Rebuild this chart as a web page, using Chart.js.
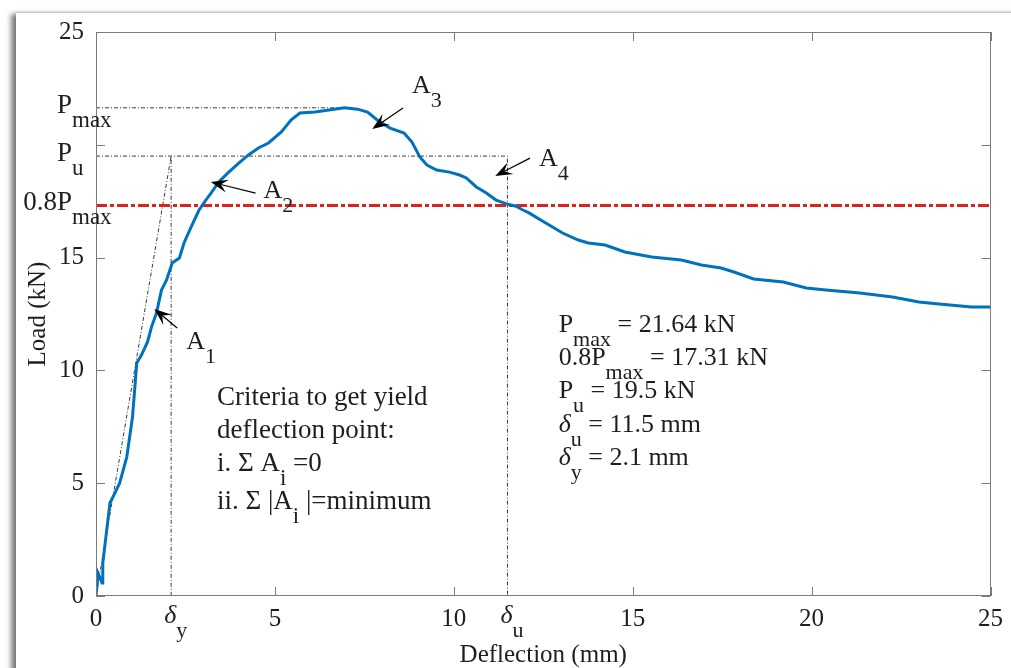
<!DOCTYPE html>
<html>
<head>
<meta charset="utf-8">
<title>Load-deflection curve</title>
<script src="https://cdn.jsdelivr.net/npm/chart.js@4.4.1/dist/chart.umd.min.js"></script>
<style>
  html, body { margin: 0; padding: 0; background: #fff; }
  body { width: 1011px; height: 668px; position: relative; overflow: hidden; }
  #sheet {
    position: absolute; left: 16px; top: 13px; width: 1040px; height: 700px;
    background: #fff;
    box-shadow: -6px 0 5px -1px rgba(0,0,0,0.5), 0 -1px 3px rgba(0,0,0,0.12);
  }
  #loadChart { position: absolute; left: 0; top: 0; }
</style>
</head>
<body>
<div id="sheet"></div>
<canvas id="loadChart" width="1011" height="668"></canvas>
<script>
// measured load-deflection response
const deflection = [0, 0.06, 0.17, 0.19, 0.30, 0.39, 0.53, 0.66, 0.86, 1.02, 1.08, 1.14, 1.27, 1.44, 1.55,
    1.69, 1.83, 1.97, 2.13, 2.33, 2.46, 2.66, 2.88, 3.07, 3.24, 3.43, 3.71, 3.99, 4.26, 4.54, 4.82, 5.18,
    5.45, 5.70, 6.12, 6.56, 6.95, 7.31, 7.59, 7.86, 8.22, 8.61, 8.83, 9.05, 9.25, 9.52, 9.88, 10.16, 10.35,
    10.63, 10.91, 11.18, 11.54, 11.74, 11.93, 12.10, 12.57, 13.04, 13.48, 13.76, 14.23, 14.78, 15.53, 16.36,
    16.92, 17.47, 17.83, 18.38, 19.21, 19.85, 20.40, 21.35, 22.26, 23.00, 23.56, 24.47, 25.00];
const load = [0, 1.0, 0.58, 1.46, 2.93, 4.12, 4.57, 5.0, 6.16, 7.93, 9.13, 10.33, 10.68, 11.26, 11.92,
    12.54, 13.56, 14.0, 14.76, 14.98, 15.65, 16.36, 17.11, 17.55, 17.91, 18.35, 18.79, 19.19, 19.55, 19.86,
    20.08, 20.57, 21.10, 21.41, 21.45, 21.55, 21.64, 21.58, 21.45, 21.10, 20.74, 20.52, 20.12, 19.46, 19.10,
    18.88, 18.79, 18.66, 18.53, 18.13, 17.86, 17.55, 17.35, 17.28, 17.11, 16.98, 16.53, 16.09, 15.78, 15.65,
    15.56, 15.25, 15.03, 14.89, 14.67, 14.54, 14.36, 14.05, 13.92, 13.65, 13.56, 13.43, 13.25, 13.03, 12.94,
    12.81, 12.81];

// characteristic values
const pMax = 21.64;
const p08 = 17.31;
const pU = 19.5;
const deltaU = 11.5;
const deltaY = 2.1;

const xTicks = [0, 5, 10, 15, 20, 25];
const yTicks = [0, 5, 10, 15, 20, 25];
const yTickLabels = ['0', '5', '10', '15', '', '25'];

// area arrows: tip and tail in data units, label anchor
const arrowNames = ['1', '2', '3', '4'];
const arrowTips = [[1.63, 12.72], [3.21, 18.35], [7.72, 20.70], [11.16, 18.62]];
const arrowTails = [[2.27, 11.88], [4.46, 17.86], [8.58, 21.63], [12.13, 19.41]];
const arrowLabelAt = [[2.52, 10.95], [4.68, 17.65], [8.83, 22.30], [12.38, 19.05]];

const SERIF = "'Liberation Serif', 'Times New Roman', serif";
const INK = '#1e1e1e';
const AXIS = '#7a7a7a';

const peakX = deflection[load.indexOf(Math.max(...load))];
const curve = deflection.map((x, i) => ({ x, y: load[i] }));

// parts: [text, kind]  kind '' = normal, 's' = subscript, 'i' = italic
function richText(ctx, x, y, parts, size) {
    const subSize = Math.round(size * 0.86);
    const fontFor = k => k === 's' ? `${subSize}px ${SERIF}`
        : k === 'i' ? `italic ${size}px ${SERIF}` : `${size}px ${SERIF}`;
    ctx.save();
    ctx.fillStyle = INK;
    ctx.textAlign = 'left';
    ctx.textBaseline = 'alphabetic';
    let cx = x;
    parts.forEach(([t, k]) => {
        ctx.font = fontFor(k);
        ctx.fillText(t, cx, k === 's' ? y + Math.round(size * 0.52) : y);
        cx += ctx.measureText(t).width;
    });
    ctx.restore();
    return cx - x;
}

function textWidth(ctx, t, font) {
    ctx.save();
    ctx.font = font;
    const w = ctx.measureText(t).width;
    ctx.restore();
    return w;
}

function drawArrow(ctx, tx, ty, sx, sy) {
    const ang = Math.atan2(ty - sy, tx - sx);
    const c = Math.cos(ang), s = Math.sin(ang);
    const len = 17, half = 6.5;
    ctx.save();
    ctx.strokeStyle = '#000';
    ctx.fillStyle = '#000';
    ctx.lineWidth = 1.2;
    ctx.beginPath();
    ctx.moveTo(sx, sy);
    ctx.lineTo(tx - c * len * 0.6, ty - s * len * 0.6);
    ctx.stroke();
    ctx.beginPath();
    ctx.moveTo(tx, ty);
    ctx.lineTo(tx - c * len + s * half, ty - s * len - c * half);
    ctx.lineTo(tx - c * len * 0.6, ty - s * len * 0.6);
    ctx.lineTo(tx - c * len - s * half, ty - s * len + c * half);
    ctx.closePath();
    ctx.fill();
    ctx.restore();
}

const frameAndNotes = {
    id: 'frameAndNotes',
    afterDatasetsDraw(chart) {
        const { ctx, chartArea: a, scales: { x, y } } = chart;
        ctx.save();
        ctx.strokeStyle = AXIS;
        ctx.lineWidth = 1;
        ctx.strokeRect(Math.round(a.left) + 0.5, Math.round(a.top) + 0.5,
            Math.round(a.right - a.left) - 1, Math.round(a.bottom - a.top) - 1);
        // inward ticks on all four sides
        ctx.beginPath();
        xTicks.forEach(v => {
            const px = Math.round(x.getPixelForValue(v)) + 0.5;
            ctx.moveTo(px, a.bottom); ctx.lineTo(px, a.bottom - 9);
            ctx.moveTo(px, a.top); ctx.lineTo(px, a.top + 9);
        });
        yTicks.forEach(v => {
            const py = Math.round(y.getPixelForValue(v)) + 0.5;
            ctx.moveTo(a.left, py); ctx.lineTo(a.left + 9, py);
            ctx.moveTo(a.right, py); ctx.lineTo(a.right - 9, py);
        });
        ctx.stroke();
        ctx.restore();
    },
    afterDraw(chart) {
        const { ctx, chartArea: a, scales: { x, y } } = chart;
        const fs = 26;

        // load levels on the y axis
        const anchor = a.left - 24;
        [[pMax, 'P', 'max'], [pU, 'P', 'u'], [p08, '0.8P', 'max']].forEach(([v, main, sub]) => {
            const w = textWidth(ctx, main, `27px ${SERIF}`);
            richText(ctx, anchor - w, y.getPixelForValue(v) + 5, [[main, ''], [sub, 's']], 27);
        });

        // deflection marks on the x axis
        [[deltaY, 'y'], [deltaU, 'u']].forEach(([v, sub]) => {
            richText(ctx, x.getPixelForValue(v) - 7, a.bottom + 27, [['δ', 'i'], [sub, 's']], fs);
        });

        // arrows to the areas A1..A4
        arrowNames.forEach((n, i) => {
            drawArrow(ctx, x.getPixelForValue(arrowTips[i][0]), y.getPixelForValue(arrowTips[i][1]),
                x.getPixelForValue(arrowTails[i][0]), y.getPixelForValue(arrowTails[i][1]));
            richText(ctx, x.getPixelForValue(arrowLabelAt[i][0]), y.getPixelForValue(arrowLabelAt[i][1]),
                [['A', ''], [n, 's']], fs);
        });

        // yield criteria
        const lx = x.getPixelForValue(3.38);
        richText(ctx, lx, y.getPixelForValue(8.47), [['Criteria to get yield', '']], 27);
        richText(ctx, lx, y.getPixelForValue(7.00), [['deflection point:', '']], 27);
        richText(ctx, lx, y.getPixelForValue(5.55), [['i. Σ A', ''], ['i', 's'], [' =0', '']], 27);
        richText(ctx, lx, y.getPixelForValue(3.85), [['ii. Σ |A', ''], ['i', 's'], [' |=minimum', '']], 27);

        // summary of values
        const rx = x.getPixelForValue(12.93);
        richText(ctx, rx, y.getPixelForValue(11.70), [['P', ''], ['max', 's'], [` = ${pMax} kN`, '']], fs);
        richText(ctx, rx, y.getPixelForValue(10.24), [['0.8P', ''], ['max', 's'], [` = ${p08} kN`, '']], fs);
        richText(ctx, rx, y.getPixelForValue(8.78), [['P', ''], ['u', 's'], [` = ${pU} kN`, '']], fs);
        richText(ctx, rx, y.getPixelForValue(7.27), [['δ', 'i'], ['u', 's'], [` = ${deltaU} mm`, '']], fs);
        richText(ctx, rx, y.getPixelForValue(5.81), [['δ', 'i'], ['y', 's'], [` = ${deltaY} mm`, '']], fs);
    }
};

const guide = {
    borderColor: '#3a3a3a',
    borderWidth: 1,
    borderDash: [4, 2, 1, 2],
    pointRadius: 0,
    tension: 0,
    fill: false
};

new Chart(document.getElementById('loadChart'), {
    type: 'line',
    data: {
        datasets: [
            {
                data: curve,
                borderColor: '#0072BD',
                borderWidth: 3,
                pointRadius: 0,
                tension: 0,
                order: 0
            },
            {
                data: [{ x: 0, y: p08 }, { x: 25, y: p08 }],
                borderColor: '#e0201b',
                borderWidth: 3,
                borderDash: [11, 3, 4, 3],
                pointRadius: 0,
                order: 1
            },
            { ...guide, data: [{ x: 0, y: pMax }, { x: peakX, y: pMax }], order: 2 },
            { ...guide, data: [{ x: 0, y: pU }, { x: deltaU, y: pU }, { x: deltaU, y: 0 }], order: 3 },
            { ...guide, data: [{ x: 0, y: 0 }, { x: deltaY, y: pU }, { x: deltaY, y: 0 }], order: 4 }
        ]
    },
    options: {
        responsive: false,
        animation: false,
        layout: { padding: { left: 0, top: 32, right: 12, bottom: 0 } },
        plugins: {
            legend: { display: false },
            tooltip: { enabled: false }
        },
        scales: {
            x: {
                type: 'linear',
                min: 0,
                max: 25,
                afterBuildTicks: s => { s.ticks = xTicks.map(v => ({ value: v })); },
                ticks: {
                    color: INK,
                    padding: 8,
                    maxRotation: 0,
                    font: { family: SERIF, size: 25 }
                },
                grid: { display: false, drawTicks: false },
                border: { display: false },
                title: {
                    display: true,
                    text: 'Deflection (mm)',
                    color: INK,
                    padding: 0,
                    font: { family: SERIF, size: 25, lineHeight: 1 }
                },
                afterFit: s => { s.height = 72; }
            },
            y: {
                type: 'linear',
                min: 0,
                max: 25,
                afterBuildTicks: s => { s.ticks = yTicks.map(v => ({ value: v })); },
                ticks: {
                    color: INK,
                    padding: 12,
                    font: { family: SERIF, size: 25 },
                    callback: (v) => yTickLabels[yTicks.indexOf(v)]
                },
                grid: { display: false, drawTicks: false },
                border: { display: false },
                title: {
                    display: true,
                    text: 'Load (kN)',
                    color: INK,
                    padding: { top: 26, bottom: 0 },
                    font: { family: SERIF, size: 25, lineHeight: 1 }
                },
                afterFit: s => { s.width = 96; }
            }
        }
    },
    plugins: [frameAndNotes]
});
</script>
</body>
</html>
